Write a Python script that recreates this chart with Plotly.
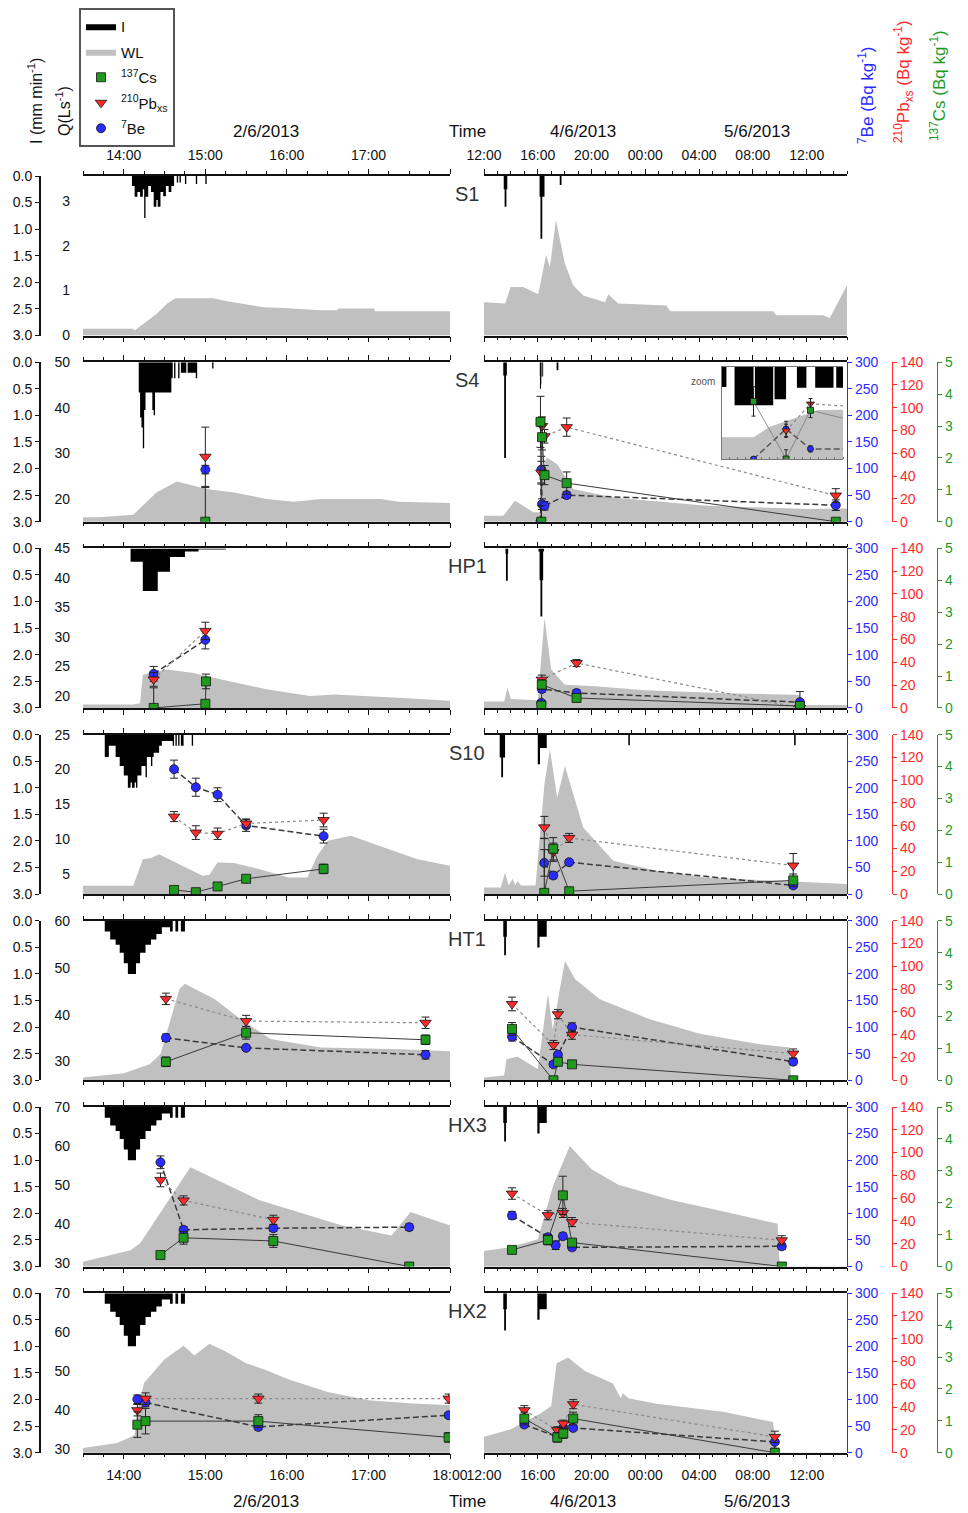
import plotly.graph_objects as go

W, H = 968, 1513

# ======================= DATA =======================
# times: "d HH:MM" -> day of June 2013
STATIONS = ["S1", "S4", "HP1", "S10", "HT1", "HX3", "HX2"]

# --- Q / WL axis ranges and tick labels per station ---
S1_Q_RANGE = [0, 3.55];   S1_Q_TICKS = [0, 1, 2, 3]
S4_Q_RANGE = [15, 50];    S4_Q_TICKS = [20, 30, 40, 50]
HP1_Q_RANGE = [18, 45];   HP1_Q_TICKS = [20, 25, 30, 35, 40, 45]
S10_Q_RANGE = [2.14, 25]; S10_Q_TICKS = [5, 10, 15, 20, 25]
HT1_Q_RANGE = [26, 60];   HT1_Q_TICKS = [30, 40, 50, 60]
HX3_Q_RANGE = [29, 70];   HX3_Q_TICKS = [30, 40, 50, 60, 70]
HX2_Q_RANGE = [29, 70];   HX2_Q_TICKS = [30, 40, 50, 60, 70]

I_TICKS = [0.0, 0.5, 1.0, 1.5, 2.0, 2.5, 3.0]
BE_TICKS = [0, 50, 100, 150, 200, 250, 300]
PB_TICKS = [0, 20, 40, 60, 80, 100, 120, 140]
CS_TICKS = [0, 1, 2, 3, 4, 5]
LEFT_HOURS = ["2 14:00", "2 15:00", "2 16:00", "2 17:00", "2 18:00"]
RIGHT_HOURS = ["4 12:00", "4 16:00", "4 20:00", "5 00:00", "5 04:00", "5 08:00", "5 12:00"]

# --- rainfall intensity I (mm/min), step values (held until next time) ---
S1_I_T = ["2 14:06", "2 14:08", "2 14:10", "2 14:12", "2 14:14", "2 14:15", "2 14:16", "2 14:18", "2 14:20",
          "2 14:22", "2 14:24", "2 14:25", "2 14:27", "2 14:29", "2 14:31", "2 14:33", "2 14:35", "2 14:37",
          "2 14:39", "2 14:40", "2 14:41", "2 14:42", "2 14:45", "2 14:46", "2 14:53", "2 14:54", "2 15:00", "2 15:01",
          "4 13:28", "4 13:32", "4 13:40", "4 13:44", "4 16:08", "4 16:12", "4 16:20", "4 16:30",
          "4 17:38", "4 17:46"]
S1_I_V = [0.19, 0.39, 0.30, 0.39, 0.25, 0.79, 0.39, 0.19, 0.30,
          0.58, 0.45, 0.58, 0.30, 0.38, 0.19, 0.30, 0.19, 0.0,
          0.12, 0.0, 0.12, 0.0, 0.15, 0.0, 0.15, 0.0, 0.15, 0.0,
          0.25, 0.58, 0.25, 0.0, 0.39, 1.18, 0.39, 0.0,
          0.17, 0.0]

S4_I_T = ["2 14:11", "2 14:12", "2 14:13", "2 14:14", "2 14:15", "2 14:16", "2 14:21", "2 14:22", "2 14:23",
          "2 14:35", "2 14:36", "2 14:37", "2 14:38", "2 14:40", "2 14:41", "2 14:42", "2 14:46", "2 14:47",
          "2 14:53", "2 14:54", "2 15:05", "2 15:06",
          "4 13:26", "4 13:30", "4 13:38", "4 13:42",
          "4 16:08:00", "4 16:08:40", "4 16:09:40", "4 16:12:00", "4 16:12:10", "4 16:14:25", "4 16:14:35",
          "4 16:16:00", "4 16:17:20", "4 16:18:30", "4 16:19:35", "4 16:21:50", "4 16:22:10", "4 16:24:00",
          "4 17:24", "4 17:32"]
S4_I_V = [0.57, 1.04, 1.23, 1.62, 0.9, 0.57, 0.9, 1.0, 0.57,
          0.3, 0.0, 0.3, 0.0, 0.3, 0.0, 0.2, 0.0, 0.2,
          0.3, 0.0, 0.12, 0.0,
          0.25, 1.8, 0.25, 0.0,
          0.26, 0.0, 0.5, 0.0, 0.5, 0.0, 0.42,
          0.0, 0.27, 0.0, 0.27, 0.0, 0.27, 0.0,
          0.15, 0.0]

HP1_I_T = ["2 14:05", "2 14:14", "2 14:25", "2 14:34", "2 14:45", "2 14:55", "2 15:15",
           "4 13:36", "4 13:38", "4 13:46", "4 13:48", "4 16:03", "4 16:08", "4 16:12", "4 16:20", "4 16:24",
           "4 16:28"]
HP1_I_V = [0.25, 0.8, 0.44, 0.16, 0.06, 0.02, 0.0,
           0.1, 0.61, 0.1, 0.0, 0.06, 0.6, 1.28, 0.6, 0.06,
           0.0]

S10_I_T = ["2 13:46", "2 13:49", "2 13:54", "2 13:57", "2 14:00", "2 14:03", "2 14:05", "2 14:06", "2 14:08",
           "2 14:09", "2 14:10", "2 14:13", "2 14:16", "2 14:17", "2 14:20", "2 14:21", "2 14:22", "2 14:26",
           "2 14:28", "2 14:36", "2 14:37", "2 14:38", "2 14:39", "2 14:40", "2 14:41", "2 14:42", "2 14:44",
           "2 14:50", "2 14:51",
           "4 13:10", "4 13:17", "4 13:25", "4 13:34", "4 16:00", "4 16:10", "4 16:40",
           "4 22:44", "4 22:51", "5 11:04", "5 11:11"]
S10_I_V = [0.42, 0.21, 0.42, 0.59, 0.77, 1.0, 0.9, 1.0, 0.9,
           1.0, 0.77, 0.59, 0.8, 0.42, 0.59, 0.42, 0.34, 0.21,
           0.12, 0.21, 0.0, 0.21, 0.0, 0.21, 0.0, 0.21, 0.0,
           0.21, 0.0,
           0.43, 0.8, 0.43, 0.0, 0.56, 0.25, 0.0,
           0.2, 0.0, 0.2, 0.0]

HT1_I_T = ["2 13:46", "2 13:50", "2 13:54", "2 13:57", "2 14:00", "2 14:03", "2 14:09", "2 14:12", "2 14:16",
           "2 14:20", "2 14:24", "2 14:28", "2 14:34", "2 14:36", "2 14:38", "2 14:40", "2 14:42", "2 14:45",
           "4 13:26", "4 13:30", "4 13:38", "4 13:42", "4 15:58", "4 16:08", "4 16:40"]
HT1_I_V = [0.2, 0.35, 0.45, 0.6, 0.8, 1.0, 0.8, 0.6, 0.45,
           0.35, 0.25, 0.12, 0.2, 0.0, 0.2, 0.0, 0.2, 0.0,
           0.3, 0.65, 0.3, 0.0, 0.5, 0.3, 0.0]

HX3_I_T = ["2 13:46", "2 13:50", "2 13:54", "2 13:57", "2 14:00", "2 14:03", "2 14:09", "2 14:12", "2 14:16",
           "2 14:20", "2 14:24", "2 14:28", "2 14:34", "2 14:36", "2 14:38", "2 14:40", "2 14:42", "2 14:45",
           "4 13:26", "4 13:30", "4 13:38", "4 13:42", "4 15:58", "4 16:08", "4 16:40"]
HX3_I_V = [0.2, 0.35, 0.45, 0.6, 0.8, 1.0, 0.8, 0.6, 0.45,
           0.35, 0.25, 0.12, 0.2, 0.0, 0.2, 0.0, 0.2, 0.0,
           0.3, 0.65, 0.3, 0.0, 0.5, 0.3, 0.0]

HX2_I_T = ["2 13:46", "2 13:50", "2 13:54", "2 13:57", "2 14:00", "2 14:03", "2 14:09", "2 14:12", "2 14:16",
           "2 14:20", "2 14:24", "2 14:28", "2 14:34", "2 14:36", "2 14:38", "2 14:40", "2 14:42", "2 14:45",
           "4 13:26", "4 13:30", "4 13:38", "4 13:42", "4 15:58", "4 16:08", "4 16:40"]
HX2_I_V = [0.2, 0.35, 0.45, 0.6, 0.8, 1.0, 0.8, 0.6, 0.45,
           0.35, 0.25, 0.12, 0.2, 0.0, 0.2, 0.0, 0.2, 0.0,
           0.3, 0.7, 0.3, 0.0, 0.5, 0.3, 0.0]

# --- water level / discharge WL ---
S1_WL_T = ["2 13:30", "2 14:07", "2 14:08", "2 14:17", "2 14:24", "2 14:32", "2 14:38", "2 15:06", "2 15:16",
           "2 15:26", "2 15:43", "2 15:58", "2 16:25", "2 16:37", "2 16:38", "2 17:04", "2 17:05", "2 18:00",
           "4 12:00", "4 13:34", "4 13:59", "4 14:55", "4 16:02", "4 16:37", "4 16:54", "4 17:21", "4 18:01",
           "4 18:38", "4 19:23", "4 21:00", "4 21:15", "4 21:59", "5 01:35", "5 01:50", "5 09:30", "5 09:45",
           "5 13:13", "5 13:43", "5 15:00"]
S1_WL_V = [0.15, 0.15, 0.11, 0.33, 0.48, 0.71, 0.83, 0.83, 0.76,
           0.71, 0.63, 0.61, 0.56, 0.56, 0.60, 0.60, 0.54, 0.54,
           0.74, 0.71, 1.08, 1.08, 0.92, 1.79, 1.52, 2.57, 1.60,
           1.12, 0.89, 0.74, 0.92, 0.71, 0.67, 0.54, 0.54, 0.45,
           0.45, 0.39, 1.12]

S4_WL_T = ["2 13:30", "2 13:42", "2 14:07", "2 14:14", "2 14:24", "2 14:39", "2 15:01", "2 15:21", "2 15:45",
           "2 16:05", "2 16:25", "2 17:09", "2 17:22", "2 18:00",
           "4 12:00", "4 13:26", "4 14:18", "4 15:40", "4 16:12", "4 16:14", "4 16:20", "4 16:40", "4 17:27",
           "4 18:38", "4 21:37", "5 04:33", "5 12:00", "5 15:00"]
S4_WL_V = [15.96, 15.96, 16.5, 18.5, 21.4, 23.8, 22.2, 21.4, 20.0,
           19.4, 20.0, 20.0, 19.4, 19.1,
           16.3, 16.3, 19.6, 17.1, 17.1, 20.5, 26.0, 29.1, 27.6,
           22.2, 20.3, 18.5, 17.8, 17.9]

HP1_WL_T = ["2 13:30", "2 14:07", "2 14:12", "2 14:14", "2 14:32", "2 14:51", "2 15:06", "2 15:46", "2 16:17",
            "2 16:35", "2 17:22", "2 18:00",
            "4 12:00", "4 13:30", "4 13:45", "4 14:00", "4 16:00", "4 16:30", "4 17:00", "4 18:00", "4 20:00",
            "5 00:00", "5 06:00", "5 11:30", "5 11:40", "5 15:00"]
HP1_WL_V = [18.56, 18.56, 18.8, 23.6, 24.5, 23.9, 23.1, 21.1, 20.0,
            20.25, 19.7, 19.2,
            19.1, 19.1, 21.4, 19.5, 19.3, 33.2, 24.5, 21.9, 21.7,
            21.0, 20.5, 20.2, 18.5, 18.5]

S10_WL_T = ["2 13:30", "2 14:07", "2 14:14", "2 14:20", "2 14:26", "2 14:40", "2 14:58", "2 15:03", "2 15:09",
            "2 15:21", "2 15:40", "2 16:01", "2 16:15", "2 16:22", "2 16:30", "2 16:47", "2 17:36", "2 18:00",
            "4 12:00", "4 13:15", "4 13:34", "4 13:50", "4 14:08", "4 14:20", "4 14:30", "4 14:45", "4 15:50",
            "4 16:30", "4 16:54", "4 17:27", "4 18:01", "4 19:23", "4 21:37", "5 00:50", "5 04:33", "5 10:00",
            "5 15:00"]
S10_WL_V = [3.34, 3.34, 7.14, 7.3, 7.86, 6.5, 4.77, 4.9, 6.67,
            6.6, 5.7, 4.53, 4.53, 7.5, 9.77, 10.5, 7.14, 6.2,
            3.1, 3.1, 5.24, 3.4, 4.29, 3.4, 4.0, 3.39, 3.39,
            18.0, 22.9, 15.96, 20.5, 11.67, 6.91, 5.49, 4.53, 4.06,
            3.57]

HT1_WL_T = ["2 13:30", "2 14:00", "2 14:19", "2 14:27", "2 14:41", "2 14:45", "2 15:07", "2 15:26", "2 15:48",
            "2 16:25", "2 17:24", "2 18:00",
            "4 12:00", "4 13:30", "4 13:40", "4 14:30", "4 16:00", "4 16:45", "4 17:07", "4 18:01", "4 18:46",
            "4 20:37", "5 00:20", "5 04:03", "5 08:30", "5 10:45", "5 10:50", "5 15:00"]
HT1_WL_V = [26.6, 27.5, 29.4, 31.6, 45.5, 46.6, 43.3, 39.0, 34.8,
            33.0, 32.6, 32.2,
            26.6, 27.0, 30.5, 31.0, 28.4, 44.4, 36.9, 51.5, 47.6,
            43.3, 39.0, 35.9, 33.7, 33.0, 26.0, 26.0]

HX3_WL_T = ["2 13:30", "2 14:05", "2 14:12", "2 14:49", "2 15:40", "2 16:40", "2 17:17", "2 17:31", "2 17:53",
            "2 18:00",
            "4 12:00", "4 14:00", "4 16:00", "4 16:45", "4 17:10", "4 18:23", "4 20:00", "4 22:00", "5 02:00",
            "5 06:00", "5 09:50", "5 10:00", "5 15:00"]
HX3_WL_V = [30.2, 33.2, 35.0, 54.5, 46.0, 39.6, 37.0, 43.0, 40.4,
            39.6,
            33.0, 34.0, 36.0, 45.0, 50.0, 60.0, 54.0, 50.0, 46.0,
            43.0, 40.0, 29.0, 29.0]

HX2_WL_T = ["2 13:30", "2 13:55", "2 14:08", "2 14:10", "2 14:15", "2 14:30", "2 14:44", "2 14:52", "2 15:03",
            "2 15:15", "2 15:30", "2 15:45", "2 16:00", "2 16:30", "2 17:00", "2 17:30", "2 18:00",
            "4 12:00", "4 14:00", "4 16:10", "4 17:00", "4 17:24", "4 18:15", "4 19:30", "4 21:36", "4 22:10",
            "4 22:20", "4 22:45", "5 00:50", "5 05:46", "5 09:30", "5 09:45", "5 15:00"]
HX2_WL_V = [30.2, 31.5, 33.5, 40.0, 47.0, 53.0, 56.5, 54.0, 57.0,
            55.0, 52.0, 50.2, 48.0, 44.6, 42.5, 41.7, 41.2,
            33.1, 35.0, 39.0, 41.0, 52.0, 53.5, 50.0, 46.8, 43.0,
            44.3, 43.0, 41.6, 39.5, 36.9, 29.0, 29.0]

# --- sediment samples: 7Be, 210Pbxs, 137Cs (Bq/kg) with errors ---
S1_SMP_T = []; S1_BE = []; S1_BE_ERR = []; S1_PB = []; S1_PB_ERR = []; S1_CS = []; S1_CS_ERR = []

S4_SMP_T = ["2 15:00", "4 16:12", "4 16:16", "4 16:19", "4 16:30", "4 18:09", "5 14:10"]
S4_BE = [98, 0, 98, 33, 30, 50, 31]
S4_BE_ERR = [8, 5, 25, 10, 8, 6, 10]
S4_PB = [57, None, 43, 84, 75, 83, 23]
S4_PB_ERR = [26, 0, 10, 8, 6, 8, 6]
S4_CS = [0, 3.13, 0, 2.65, 1.46, 1.21, 0]
S4_CS_ERR = [1.07, 0.8, 0.5, 0.4, 0.3, 0.35, 0.1]

HP1_SMP_T = ["2 14:22", "2 15:00", "2 15:00:30", "4 16:16", "4 16:18", "4 18:53", "5 11:30"]
HP1_BE = [64, 128, None, 9.4, 35.6, 28, 10.7]
HP1_BE_ERR = [14, 17, 0, 5, 6, 6, 20]
HP1_PB = [25, 67.6, None, None, 24.8, 39.4, 0]
HP1_PB_ERR = [6, 7.6, 0, 0, 4, 3, 2]
HP1_CS = [0, 0.13, 0.83, 0.07, 0.73, 0.31, 0.06]
HP1_CS_ERR = [0.63, 0.05, 0.23, 0.05, 0.15, 0.1, 0.1]

S10_SMP_T = ["2 14:37", "2 14:53", "2 15:09", "2 15:30", "2 16:27", "4 16:29", "4 17:09", "4 18:20", "5 11:00"]
S10_BE = [235, 201, 187, 129, 109, 58.7, 35, 60, 16.3]
S10_BE_ERR = [17, 17, 13, 11, 13, 25, 6, 5, 5]
S10_PB = [68, 54, 53, 62, 65, 58.6, 36.75, 49.3, 25.1]
S10_PB_ERR = [4.4, 6, 5, 4, 6, 9.6, 8, 4, 10.5]
S10_CS = [0.13, 0.06, 0.24, 0.48, 0.79, 0.04, 1.42, 0.09, 0.43]
S10_CS_ERR = [0.1, 0.1, 0.1, 0.1, 0.15, 1.7, 0.35, 0.05, 0.2]

HT1_SMP_T = ["2 14:31", "2 15:30", "2 17:42", "4 14:05", "4 17:10", "4 17:30", "4 18:33", "5 11:00"]
HT1_BE = [80, 61, 48, 82, 30, 48, 100, 35]
HT1_BE_ERR = [7, 5, 8, 8, 5, 5, 8, 6]
HT1_PB = [71.5, 52, 50.5, 67, 31, 58, 40, 23.5]
HT1_PB_ERR = [5, 5, 5, 6, 4, 4, 4, 4]
HT1_CS = [0.58, 1.49, 1.27, 1.61, 0, 0.58, 0.5, 0]
HT1_CS_ERR = [0.15, 0.2, 0.15, 0.2, 0.05, 0.1, 0.1, 0.05]

HX3_SMP_T = ["2 14:27", "2 14:44", "2 15:50", "2 17:30", "4 14:05", "4 16:45", "4 17:20", "4 17:52", "4 18:33", "5 10:09"]
HX3_BE = [196, 69, 72, 74, 96, 55, 40, 57, 36, 38]
HX3_BE_ERR = [12, 6, 6, 6, 7, 6, 8, 6, 5, 6]
HX3_PB = [76, 58, 41, None, 64, 45, None, 47, 39, 23]
HX3_PB_ERR = [6, 4, 4, 0, 5, 4, 0, 4, 4, 4]
HX3_CS = [0.36, 0.9, 0.8, 0, 0.52, 0.83, None, 2.23, 0.75, 0]
HX3_CS_ERR = [0.1, 0.2, 0.2, 0.1, 0.1, 0.15, 0, 0.6, 0.1, 0.05]

HX2_SMP_T = ["2 14:10", "2 14:16", "2 15:39", "2 17:59", "4 15:00", "4 17:27", "4 17:54", "4 18:38", "5 09:38"]
HX2_BE = [100.6, 94.4, 48.5, 70.5, 53, 29.7, 46.6, 46.6, 20.3]
HX2_BE_ERR = [8, 8, 6, 5, 5, 5, 5, 5, 12]
HX2_PB = [37.3, 47.5, 47.5, 47.5, 37.3, 19.8, 25.6, 42.6, 13.9]
HX2_PB_ERR = [5, 5, 4, 4, 4, 3, 3, 4, 5]
HX2_CS = [0.88, 0.99, 0.99, 0.48, 1.07, 0.48, 0.6, 1.07, 0]
HX2_CS_ERR = [0.4, 0.4, 0.2, 0.15, 0.2, 0.15, 0.15, 0.2, 0.1]

# ======================= BUILD =======================
G = globals()

# the page body has an 8 px margin: the figure starts at (8, 8) in the window
OFF = 8
WF, HF = W - OFF, H - OFF


def PX(p):
    return (p - OFF) / WF


def PY(p):
    return 1 - (p - OFF) / HF


def T(s):
    d, hm = s.split(" ")
    if len(hm) == 5:
        hm += ":00"
    return f"2013-06-0{d} {hm}"


def split_panels(ts, *cols):
    left = [i for i, t in enumerate(ts) if t.startswith("2 ")]
    right = [i for i, t in enumerate(ts) if not t.startswith("2 ")]
    out = []
    for idx in (left, right):
        out.append([[T(ts[i]) for i in idx]] + [[c[i] for i in idx] for c in cols])
    return out


FONT = "Liberation Sans, Arial, sans-serif"
BLUE, RED, GREEN = "#2b2bff", "#ff2a2a", "#1f9a1f"
ROW_TOP0, ROW_STEP, ROW_H = 176.0, 186.2, 159.5
XL, XR = (83, 450), (484, 847)

layout = dict(template="none", width=WF, height=HF,
              margin=dict(l=0, r=0, t=0, b=0, pad=0, autoexpand=False),
              paper_bgcolor="white", plot_bgcolor="rgba(0,0,0,0)",
              font=dict(family=FONT, size=14, color="#111"),
              showlegend=True,
              legend=dict(x=PX(79), y=PY(8), xanchor="left", yanchor="top",
                          bgcolor="white", bordercolor="#555", borderwidth=2,
                          font=dict(family=FONT, size=15, color="#111"),
                          traceorder="grouped", tracegroupgap=3, itemwidth=30),
              annotations=[], shapes=[])
traces = []
cnt = {"x": 0, "y": 0}


def new_axis(letter, spec):
    cnt[letter] += 1
    n = cnt[letter]
    key = f"{letter}axis" if n == 1 else f"{letter}axis{n}"
    ref = letter if n == 1 else f"{letter}{n}"
    spec = dict(spec, automargin=False)
    layout[key] = spec
    return ref


def pdom(top, bot):
    return [PY(bot), PY(top)]


legend_done = set()


def leg(name):
    if name in legend_done:
        return False
    legend_done.add(name)
    return True


LEG = {"I": ("I", 1), "WL": ("WL", 2), "CS": ("<sup>137</sup>Cs", 3),
       "PB": ("<sup>210</sup>Pb<sub>xs</sub>", 4), "BE": ("<sup>7</sup>Be", 5)}


def add_series(xr, yi, yq, ybe, ypb, ycs, st, panel, msize=9, ew=4, inset=False):
    i_t, i_v = split_panels(G[f"{st}_I_T"], G[f"{st}_I_V"])[panel]
    w_t, w_v = split_panels(G[f"{st}_WL_T"], G[f"{st}_WL_V"])[panel]
    if w_t:
        sl = (not inset) and leg("WL")
        traces.append(go.Scatter(x=w_t, y=w_v, mode="lines", line=dict(width=0, color="#c0c0c0"),
                                 fill="tozeroy", fillcolor="#c0c0c0", xaxis=xr, yaxis=yq,
                                 name=LEG["WL"][0], legendgroup="g2", legendrank=2,
                                 showlegend=sl, hoverinfo="skip"))
    if i_t:
        sl = (not inset) and leg("I")
        traces.append(go.Scatter(x=i_t, y=i_v, mode="lines", line=dict(width=0, color="black", shape="hv"),
                                 fill="tozeroy", fillcolor="black", xaxis=xr, yaxis=yi,
                                 name=LEG["I"][0], legendgroup="g1", legendrank=1,
                                 showlegend=sl, hoverinfo="skip"))
    s = split_panels(G[f"{st}_SMP_T"], G[f"{st}_BE"], G[f"{st}_BE_ERR"], G[f"{st}_PB"],
                     G[f"{st}_PB_ERR"], G[f"{st}_CS"], G[f"{st}_CS_ERR"])[panel]
    ts, be, bee, pb, pbe, cs, cse = s
    if not ts:
        return
    lw = 0.8 if inset else 1.0
    traces.append(go.Scatter(x=ts, y=cs, mode="lines", connectgaps=True,
                             line=dict(color="#3a3a3a" if not inset else "#777", width=lw),
                             xaxis=xr, yaxis=ycs, showlegend=False, hoverinfo="skip"))
    traces.append(go.Scatter(x=ts, y=pb, mode="lines", connectgaps=True,
                             line=dict(color="#8a8a8a", width=1.2, dash="dot"),
                             xaxis=xr, yaxis=ypb, showlegend=False, hoverinfo="skip"))
    traces.append(go.Scatter(x=ts, y=be, mode="lines", connectgaps=True,
                             line=dict(color="#3a3a3a" if not inset else "#555", width=1.5, dash="6px,3px"),
                             xaxis=xr, yaxis=ybe, showlegend=False, hoverinfo="skip"))
    for key, vals, errs, ya, sym, col, sz in (("CS", cs, cse, ycs, "square", GREEN, msize),
                                              ("PB", pb, pbe, ypb, "triangle-down", RED, msize + 1),
                                              ("BE", be, bee, ybe, "circle", BLUE, msize)):
        sl = (not inset) and leg(key)
        name, rank = LEG[key]
        traces.append(go.Scatter(x=ts, y=vals, mode="markers",
                                 marker=dict(symbol=sym, size=sz, color=col, line=dict(color="#111", width=0.8)),
                                 error_y=dict(type="data", array=errs, color="#222", thickness=1, width=ew),
                                 xaxis=xr, yaxis=ya, name=name, legendgroup=f"g{rank}", legendrank=rank,
                                 showlegend=sl, hoverinfo="skip"))


xcommon = dict(type="date", showline=True, linecolor="#111", linewidth=1.5, mirror="ticks",
               ticks="outside", ticklen=5, tickwidth=1, tickcolor="#111", showgrid=False, zeroline=False,
               tickfont=dict(size=14, family=FONT, color="#111"), tickformat="%H:%M")

n_rows = len(STATIONS)
for k, st in enumerate(STATIONS):
    top = ROW_TOP0 + k * ROW_STEP
    bot = top + ROW_H
    dom = pdom(top, bot)
    qrange = G[f"{st}_Q_RANGE"]
    qticks = G[f"{st}_Q_TICKS"]
    yq = new_axis("y", dict(domain=dom, anchor="free", position=PX(XL[0]), side="left", range=qrange,
                            tickvals=qticks, showline=False, ticks="", ticklabelstandoff=13,
                            showgrid=False, zeroline=False, tickfont=dict(size=14, family=FONT, color="#111")))
    side = "top" if k == 0 else "bottom"
    showlab = (k == 0) or (k == n_rows - 1)
    left_text = [t.split(" ")[1] for t in LEFT_HOURS]
    if k == 0:
        left_text[-1] = ""
    xl = new_axis("x", dict(xcommon, domain=[PX(XL[0]), PX(XL[1])], anchor=yq, side=side,
                            range=[T("2 13:30"), T("2 18:00")], tickvals=[T(t) for t in LEFT_HOURS],
                            ticktext=left_text,
                            minor=dict(dtick=15 * 60 * 1000, tick0=T("2 13:30"), ticks="outside", ticklen=3,
                                       tickcolor="#111"),
                            showticklabels=showlab, ticklabelstandoff=4))
    xr = new_axis("x", dict(xcommon, domain=[PX(XR[0]), PX(XR[1])], anchor=yq, side=side,
                            range=[T("4 12:00"), T("5 15:00")], tickvals=[T(t) for t in RIGHT_HOURS],
                            ticktext=[t.split(" ")[1] for t in RIGHT_HOURS],
                            minor=dict(dtick=60 * 60 * 1000, tick0=T("4 12:00"), ticks="outside", ticklen=3,
                                       tickcolor="#111"),
                            showticklabels=showlab, ticklabelstandoff=4))
    yi = new_axis("y", dict(domain=dom, overlaying=yq, anchor="free", position=PX(40), side="left",
                            range=[3, 0], tickvals=I_TICKS, ticktext=[f"{v:.1f}" for v in I_TICKS],
                            showline=True, linecolor="#111", linewidth=2, ticks="outside", ticklen=4,
                            tickcolor="#111", showgrid=False, zeroline=False,
                            tickfont=dict(size=14, family=FONT, color="#111")))
    has_iso = len(G[f"{st}_SMP_T"]) > 0

    def right_axis(pos, rng, tv, col):
        return dict(domain=dom, overlaying=yq, anchor="free", position=PX(pos), side="right", range=rng,
                    tickvals=tv, showline=True, linecolor=col, linewidth=1.2,
                    ticks="outside", ticklen=4, tickcolor=col,
                    tickfont=dict(size=14, family=FONT, color=col), showgrid=False, zeroline=False)

    if has_iso:
        ybe = new_axis("y", right_axis(847, [0, 300], BE_TICKS, BLUE))
        ypb = new_axis("y", right_axis(892, [0, 140], PB_TICKS, RED))
        ycs = new_axis("y", right_axis(937, [0, 5], CS_TICKS, GREEN))
    else:
        ybe = new_axis("y", dict(domain=dom, overlaying=yq, anchor="free", position=PX(847), side="right",
                                 range=[0, 300], showline=True, linecolor="#111", linewidth=1.2, ticks="",
                                 tickvals=[], showticklabels=False, showgrid=False, zeroline=False))
        ypb = ybe
        ycs = ybe

    add_series(xl, yi, yq, ybe, ypb, ycs, st, 0)
    add_series(xr, yi, yq, ybe, ypb, ycs, st, 1)

    layout["annotations"].append(dict(text=st, x=PX(467), y=PY(top + 18), xref="paper", yref="paper",
                                      showarrow=False, font=dict(size=20, family=FONT, color="#333"),
                                      xanchor="center", yanchor="middle"))

    if st == "S4":
        itop, ibot = 367, 459
        idom = pdom(itop, ibot)
        yin_q = new_axis("y", dict(domain=idom, anchor="free", position=PX(721), range=[10, 40],
                                   showline=True, mirror=True, linecolor="#777", linewidth=1,
                                   showticklabels=False, ticks="", tickvals=[], showgrid=False, zeroline=False))
        xin = new_axis("x", dict(type="date", domain=[PX(721), PX(843)], anchor=yin_q,
                                 range=[T("4 16:08"), T("4 16:23")], showline=True, mirror=True,
                                 linecolor="#777", linewidth=1, ticks="", tickvals=[],
                                 minor=dict(dtick=60000, tick0=T("4 16:08"), ticks="inside", ticklen=2,
                                            tickcolor="#777"),
                                 showticklabels=False, showgrid=False, zeroline=False))
        hid = dict(domain=idom, overlaying=yin_q, anchor="free", position=PX(721), visible=False)
        yin_i = new_axis("y", dict(hid, range=[1.2, 0]))
        yin_be = new_axis("y", dict(hid, range=[0, 300]))
        yin_pb = new_axis("y", dict(hid, range=[0, 140]))
        yin_cs = new_axis("y", dict(hid, range=[0, 5]))
        add_series(xin, yin_i, yin_q, yin_be, yin_pb, yin_cs, st, 1, msize=6, ew=2, inset=True)
        layout["annotations"].append(dict(text="zoom", x=PX(703), y=PY(381), xref="paper", yref="paper",
                                          showarrow=False, font=dict(size=10, family=FONT, color="#555"),
                                          xanchor="center", yanchor="middle"))


def ann(text, x, y, size=17, color="#111", angle=0):
    layout["annotations"].append(dict(text=text, x=PX(x), y=PY(y), xref="paper", yref="paper",
                                      showarrow=False, textangle=angle, xanchor="center", yanchor="middle",
                                      font=dict(size=size, family=FONT, color=color)))


for yy in (131, 1501):
    ann("2/6/2013", 266, yy)
    ann("Time", 467, yy)
    ann("4/6/2013", 583, yy)
    ann("5/6/2013", 757, yy)

ann("I (mm min<sup>-1</sup>)", 35, 101, size=16, angle=-90)
ann("Q(Ls<sup>-1</sup>)", 63, 111, size=16, angle=-90)
ann("<sup>7</sup>Be (Bq kg<sup>-1</sup>)", 866, 95, size=17, color=BLUE, angle=-90)
ann("<sup>210</sup>Pb<sub>xs</sub> (Bq kg<sup>-1</sup>)", 903, 82, size=17, color=RED, angle=-90)
ann("<sup>137</sup>Cs (Bq kg<sup>-1</sup>)", 938, 86, size=17, color=GREEN, angle=-90)

fig = go.Figure(data=traces, layout=layout)
fig.write_html("out.html")
